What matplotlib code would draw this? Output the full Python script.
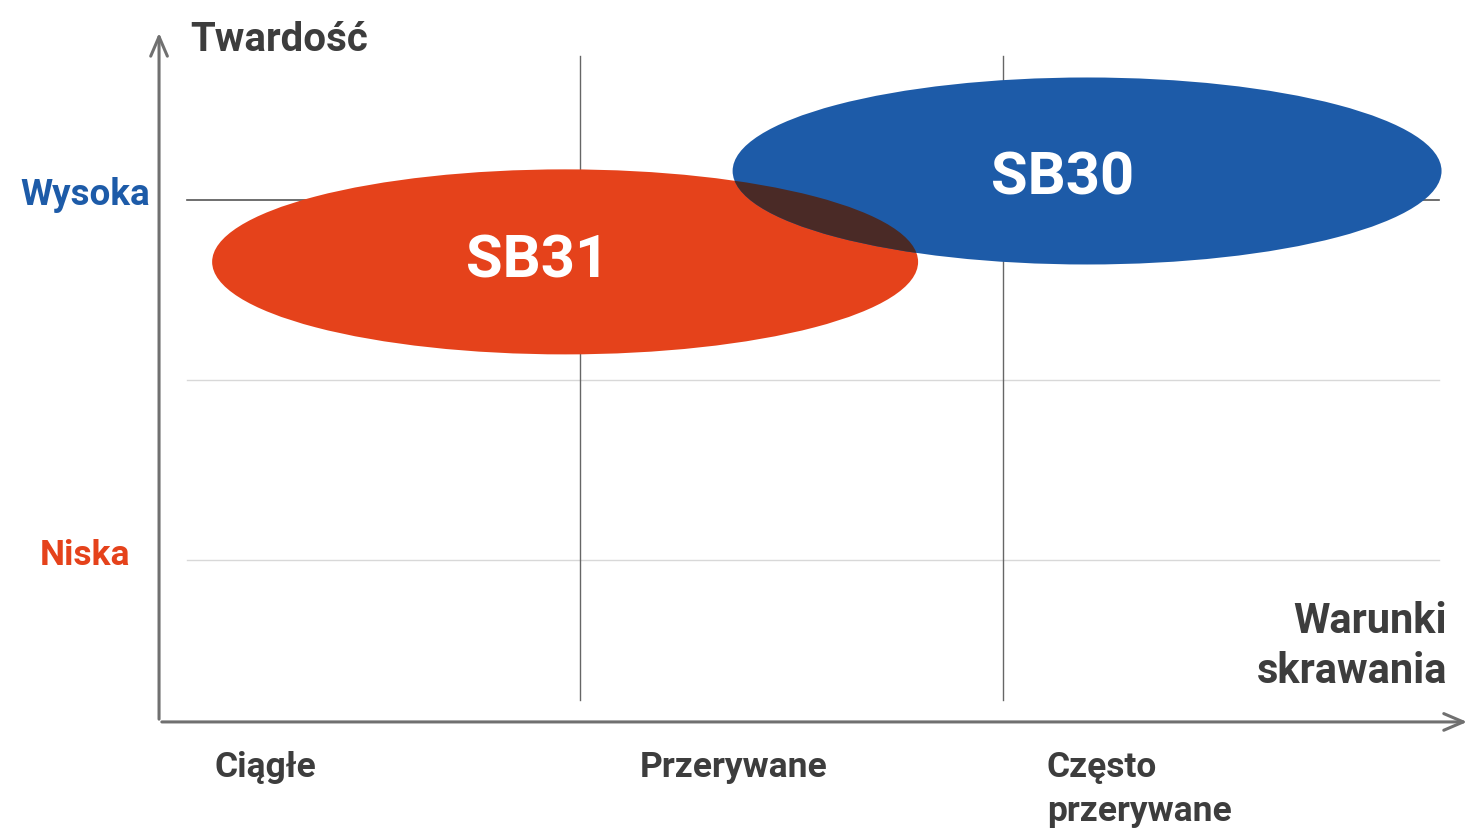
import matplotlib.pyplot as plt
from matplotlib.patches import Ellipse

plt.rcParams['font.family'] = ['Roboto', 'DejaVu Sans']

# categories along the x axis (cutting conditions) and hardness levels on y
categories = ['Ciągłe', 'Przerywane', 'Często\nprzerywane']
cat_pos = [0, 1, 2]
x_grid = [1, 2]
y_grid = [1, 2, 3]
y_labels = ['Niska', 'Wysoka']
y_label_pos = [1, 3]

# grade ranges: centre x, centre y, width, height
grades = ['SB31', 'SB30']
grade_cx = [0.965, 2.199]
grade_cy = [2.656, 3.161]
grade_w = [1.669, 1.676]
grade_h = [1.028, 1.039]
grade_colors = ['#e5421b', '#1d5ba8']

text_gray = '#3d3d3d'

fig = plt.figure(figsize=(14.72, 8.4), dpi=100)
ax = fig.add_axes([0, 0, 1, 1])
ax.set_xlim(-0.371, 3.109)
ax.set_ylim(-0.556, 4.111)
ax.axis('off')

# grid
for y in y_grid:
    ax.plot([0.071, 3.03], [y, y], color='#555555' if y == 3 else '#d8d8d8',
            lw=1.2 if y == 3 else 1.0, zorder=1)
for x in x_grid:
    ax.plot([x, x], [0.22, 3.8], color='#666666', lw=1.0, zorder=1)

# ellipses
patches = []
for cx, cy, w, h, c in zip(grade_cx, grade_cy, grade_w, grade_h, grade_colors):
    e = Ellipse((cx, cy), w, h, facecolor=c, edgecolor='none', zorder=2)
    ax.add_patch(e)
    patches.append(e)
# darker overlap
ov = Ellipse((grade_cx[1], grade_cy[1]), grade_w[1], grade_h[1],
             facecolor='#4a2a26', edgecolor='none', zorder=3)
ax.add_patch(ov)
ov.set_clip_path(patches[0])

label_xy = [(0.90, 2.656), (2.142, 3.122)]
for name, (tx, ty) in zip(grades, label_xy):
    ax.text(tx, ty, name, color='white', fontsize=43, fontweight='bold',
            ha='center', va='center', zorder=4)

# axes with open arrow heads
arrow = dict(arrowstyle='->,head_length=1.4,head_width=0.6', color='#707070', lw=2.2)
ax.annotate('', xy=(3.104, 0.1), xytext=(0.005, 0.1), arrowprops=arrow, zorder=5)
ax.annotate('', xy=(0.005, 3.944), xytext=(0.005, 0.1), arrowprops=arrow, zorder=5)

# axis titles
ax.text(0.078, 3.89, 'Twardość', color=text_gray, fontsize=29,
        fontweight='bold', ha='left', va='center')
ax.text(3.05, 0.52, 'Warunki\nskrawania', color=text_gray, fontsize=30,
        fontweight='bold', ha='right', va='center', linespacing=1.3)

# category labels
offsets = [0.137, 0.142, 0.104]
for lab, p, off in zip(categories, cat_pos, offsets):
    ax.text(p + off, -0.06, lab, color=text_gray, fontsize=25.5,
            fontweight='bold', ha='left', va='top', linespacing=1.45)

# hardness level labels
for lab, y, c, fs in zip(y_labels, y_label_pos, ['#e5421b', '#1d5ba8'], [25.5, 26.5]):
    ax.text(-0.17, y + 0.025, lab, color=c, fontsize=fs, fontweight='bold',
            ha='center', va='center')

fig.savefig('out.png', dpi=100)
